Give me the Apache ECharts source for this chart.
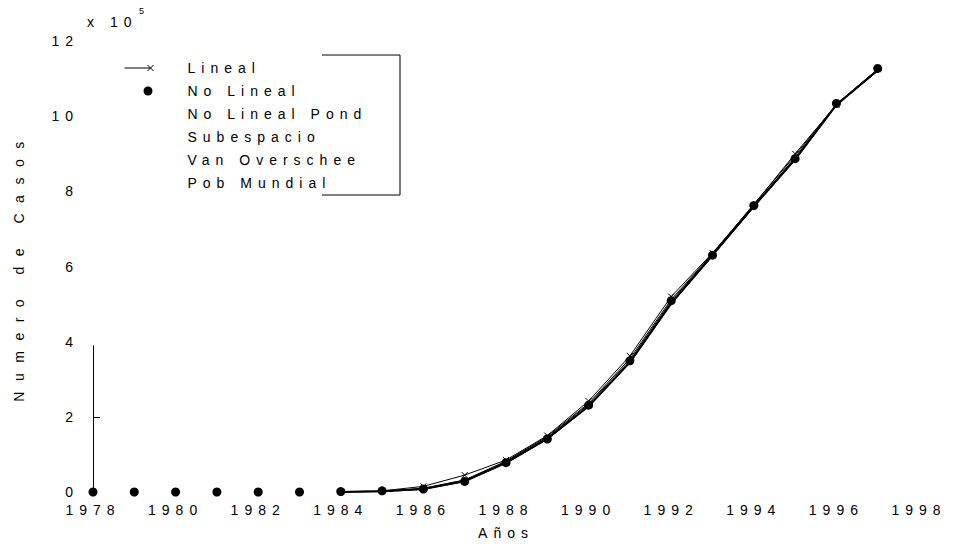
<!DOCTYPE html>
<html>
<head>
<meta charset="utf-8">
<script src="https://cdn.jsdelivr.net/npm/echarts@6/dist/echarts.min.js"></script>
<style>
  html, body { margin: 0; padding: 0; background: #fff; }
  #chart { width: 954px; height: 545px; }
  #chart text { letter-spacing: 6px; }
</style>
</head>
<body>
<div id="chart"></div>
<script>
// years and values (x 10^5 casos)
const years = [1978, 1979, 1980, 1981, 1982, 1983, 1984, 1985, 1986, 1987, 1988, 1989, 1990, 1991, 1992, 1993, 1994, 1995, 1996, 1997];
const lineYears = [1984, 1985, 1986, 1987, 1988, 1989, 1990, 1991, 1992, 1993, 1994, 1995, 1996, 1997];

const noLineal = [0, 0, 0, 0, 0, 0, 0.01, 0.03, 0.08, 0.28, 0.78, 1.41, 2.31, 3.49, 5.09, 6.30, 7.62, 8.87, 10.34, 11.27];
const lineal = [0.01, 0.03, 0.15, 0.45, 0.85, 1.50, 2.42, 3.62, 5.20, 6.36, 7.64, 9.00, 10.30, 11.25];
const noLinealPond = [0, 0.02, 0.08, 0.30, 0.78, 1.42, 2.28, 3.45, 5.02, 6.30, 7.60, 8.85, 10.30, 11.22];
const subespacio = [0, 0.01, 0.10, 0.32, 0.82, 1.48, 2.36, 3.55, 5.12, 6.34, 7.66, 8.95, 10.32, 11.25];
const vanOverschee = [0, 0.02, 0.09, 0.30, 0.80, 1.45, 2.33, 3.50, 5.08, 6.32, 7.62, 8.90, 10.31, 11.24];
const pobMundial = [0, 0.01, 0.07, 0.27, 0.76, 1.40, 2.27, 3.44, 5.00, 6.28, 7.58, 8.83, 10.29, 11.20];

const xTicks = { min: 1978, max: 1998, step: 2 };
const yTicks = { min: 0, max: 12, step: 2 };

const names = ['Lineal', 'No Lineal', 'No Lineal Pond', 'Subespacio', 'Van Overschee', 'Pob Mundial'];
const yName = 'Numero de Casos';

function pairs(xs, ys) {
    return xs.map((x, i) => [x, ys[i]]);
}

const font = 'Liberation Sans';
const hidden = { itemStyle: { opacity: 0 }, lineStyle: { opacity: 0 }, icon: 'rect' };

let chart = echarts.init(document.getElementById('chart'), null, { renderer: 'svg' });
chart.setOption({
    animation: false,
    backgroundColor: '#fff',
    textStyle: { fontFamily: font, color: '#000' },
    grid: { left: 93, right: 35, top: 41, bottom: 50 },
    legend: {
        orient: 'vertical',
        left: 117,
        top: 55,
        itemWidth: 60,
        itemHeight: 10,
        itemGap: 7,
        textStyle: { fontFamily: font, fontSize: 14, color: '#000', lineHeight: 16 },
        data: [
            { name: names[0], icon: 'path://M0,0M60,10M2,5L28,5M25,2L31,8M25,8L31,2',
              itemStyle: { color: '#000', borderColor: '#000', borderWidth: 1 } },
            { name: names[1], icon: 'path://M0,0M60,10M21,5a4.5,4.5 0 1,0 9,0a4.5,4.5 0 1,0 -9,0',
              itemStyle: { color: '#000' } },
            { name: names[2], ...hidden },
            { name: names[3], ...hidden },
            { name: names[4], ...hidden },
            { name: names[5], ...hidden }
        ]
    },
    graphic: [
        { type: 'text', left: 87, top: 15, style: { text: 'x 10', font: '14px "Liberation Sans"', fill: '#000' } },
        { type: 'text', left: 139, top: 6, style: { text: '5', font: '9px "Liberation Sans"', fill: '#000' } },
        { type: 'polyline', shape: { points: [[322, 55], [400, 55], [400, 195], [322, 195]] },
          style: { stroke: '#000', lineWidth: 1, fill: 'none' } }
    ],
    xAxis: {
        type: 'value',
        min: xTicks.min,
        max: xTicks.max,
        interval: xTicks.step,
        name: 'Años',
        nameLocation: 'middle',
        nameGap: 34,
        nameTextStyle: { fontFamily: font, fontSize: 14, color: '#000' },
        axisLine: { show: false },
        axisTick: { show: false },
        splitLine: { show: false },
        axisLabel: { fontFamily: font, fontSize: 14, color: '#000', margin: 11, formatter: v => String(v) }
    },
    yAxis: {
        type: 'value',
        min: yTicks.min,
        max: yTicks.max,
        interval: yTicks.step,
        name: yName,
        nameLocation: 'middle',
        nameGap: 67,
        nameTextStyle: { fontFamily: font, fontSize: 14, color: '#000' },
        axisLine: { show: false },
        axisTick: { show: false },
        splitLine: { show: false },
        axisLabel: { fontFamily: font, fontSize: 14, color: '#000', margin: 14 }
    },
    series: [
        {
            name: names[0],
            type: 'line',
            data: pairs(lineYears, lineal),
            symbol: 'path://M0,0L10,10M10,0L0,10',
            symbolSize: 6,
            itemStyle: { color: 'none', borderColor: '#000', borderWidth: 1 },
            lineStyle: { color: '#000', width: 1 },
            z: 4,
            markLine: {
                silent: true,
                symbol: 'none',
                label: { show: false },
                lineStyle: { color: '#000', width: 1, type: 'solid' },
                data: [
                    [{ coord: [1978, 0] }, { coord: [1978, 3.9] }],
                    [{ coord: [1978, 2] }, { coord: [1978.17, 2] }]
                ]
            }
        },
        {
            name: names[1],
            type: 'line',
            data: pairs(years, noLineal),
            symbol: 'circle',
            symbolSize: 9,
            showAllSymbol: true,
            itemStyle: { color: '#000' },
            lineStyle: { width: 0, opacity: 0 },
            z: 6
        },
        {
            name: names[2],
            type: 'line',
            data: pairs(lineYears, noLinealPond),
            showSymbol: false,
            lineStyle: { color: '#000', width: 2 },
            z: 3
        },
        {
            name: names[3],
            type: 'line',
            data: pairs(lineYears, subespacio),
            showSymbol: false,
            lineStyle: { color: '#000', width: 1 },
            z: 3
        },
        {
            name: names[4],
            type: 'line',
            data: pairs(lineYears, vanOverschee),
            showSymbol: false,
            lineStyle: { color: '#000', width: 1 },
            z: 3
        },
        {
            name: names[5],
            type: 'line',
            data: pairs(lineYears, pobMundial),
            showSymbol: false,
            lineStyle: { color: '#000', width: 1 },
            z: 3
        }
    ]
});

// wider spacing on the rotated axis name
document.querySelectorAll('#chart text').forEach(t => {
    if (t.textContent === yName) t.style.letterSpacing = '10.5px';
});
</script>
</body>
</html>
